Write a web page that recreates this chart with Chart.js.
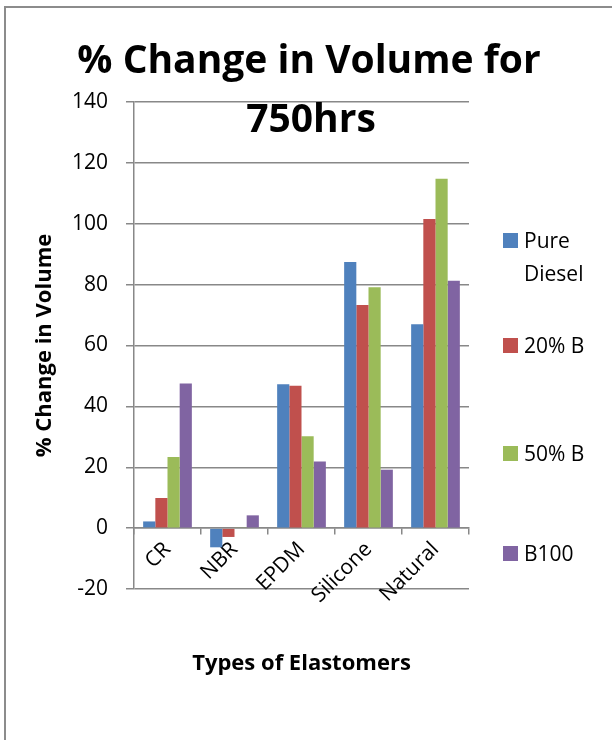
<!DOCTYPE html>
<html>
<head>
<meta charset="utf-8">
<script src="https://cdn.jsdelivr.net/npm/chart.js@4"></script>
<style>
    body { margin: 0; background: #fff; overflow: hidden; }
    #wrap { position: relative; width: 612px; height: 740px; }
    #frame { position: absolute; left: 4px; top: 6px; width: 700px; height: 800px; border-left: 2px solid #8c8c8c; border-top: 2px solid #8c8c8c; }
    #chart { position: absolute; left: 0; top: 0; }
    .legend-item { position: absolute; left: 503px; font: 21px "Open Sans", sans-serif; color: #000; }
    .legend-item span.box { position: absolute; left: 0; top: 0; width: 15px; height: 15px; }
    .legend-item span.txt { position: absolute; left: 21px; top: -9px; width: 84px; line-height: 33px; }
</style>
</head>
<body>
<div id="wrap">
    <div id="frame"></div>
    <canvas id="chart" width="612" height="740"></canvas>
</div>
<script>
const categories = ['CR', 'NBR', 'EPDM', 'Silicone', 'Natural'];
const seriesNames = ['Pure Diesel', '20% B', '50% B', 'B100'];
const pureDiesel = [2.2, -6.3, 47.3, 87.4, 67.0];
const b20 = [9.9, -2.9, 46.8, 73.3, 101.6];
const b50 = [23.4, 0.3, 30.2, 79.1, 114.8];
const b100 = [47.5, 4.2, 21.9, 19.2, 81.3];
const colors = ['#4F81BD', '#C0504D', '#9BBB59', '#8064A2'];

const gridColor = '#888888';
const font = '"Open Sans", sans-serif';

// title overlaps the plot area like the original, so draw it ourselves
const titlePlugin = {
    id: 'overlapTitle',
    afterDraw(chart) {
        const ctx = chart.ctx;
        ctx.save();
        ctx.fillStyle = '#000';
        ctx.font = 'bold 39px ' + font;
        ctx.textAlign = 'center';
        ctx.textBaseline = 'alphabetic';
        ctx.fillText('% Change in Volume for', 309, 73);
        ctx.fillText('750hrs', 311, 132);
        ctx.restore();
    }
};

const ctx = document.getElementById('chart').getContext('2d');
const chart = new Chart(ctx, {
    type: 'bar',
    data: {
        labels: categories,
        datasets: [pureDiesel, b20, b50, b100].map((d, i) => ({
            label: seriesNames[i],
            data: d,
            backgroundColor: colors[i],
            borderWidth: 0,
            categoryPercentage: 0.727,
            barPercentage: 1
        }))
    },
    options: {
        responsive: false,
        animation: false,
        layout: { padding: { left: 0, top: 102, right: 143, bottom: 151 } },
        plugins: {
            legend: { display: false },
            title: { display: false },
            tooltip: { enabled: false }
        },
        scales: {
            y: {
                min: -20,
                max: 140,
                afterFit(scale) { scale.width = 134; },
                ticks: { stepSize: 20, color: '#000', padding: 18, font: { family: font, size: 21 } },
                grid: { color: gridColor, lineWidth: 1.5, tickLength: 8 },
                border: { color: gridColor, width: 1.5 },
                title: {
                    display: true,
                    text: '% Change in Volume',
                    color: '#000',
                    font: { family: font, size: 22, weight: 'bold' },
                    padding: { top: 32, bottom: 0 }
                }
            },
            x: {
                position: { y: 0 },
                ticks: { color: '#000', minRotation: 45, maxRotation: 45, padding: 3, font: { family: font, size: 21 } },
                grid: { drawOnChartArea: false, color: gridColor, lineWidth: 1.5, tickLength: 6, offset: true },
                border: { color: gridColor, width: 1.5 },
                title: {
                    display: true,
                    text: 'Types of Elastomers',
                    color: '#000',
                    font: { family: font, size: 22, weight: 'bold' },
                    padding: { top: 40, bottom: 0 }
                }
            }
        }
    },
    plugins: [titlePlugin]
});

// legend on the right, spaced like the original
const legendTops = [233, 338, 446, 546];
seriesNames.forEach((name, i) => {
    const item = document.createElement('div');
    item.className = 'legend-item';
    item.style.top = legendTops[i] + 'px';
    item.innerHTML = '<span class="box" style="background:' + colors[i] + '"></span><span class="txt"></span>';
    item.querySelector('.txt').textContent = name;
    document.getElementById('wrap').appendChild(item);
});
</script>
</body>
</html>
